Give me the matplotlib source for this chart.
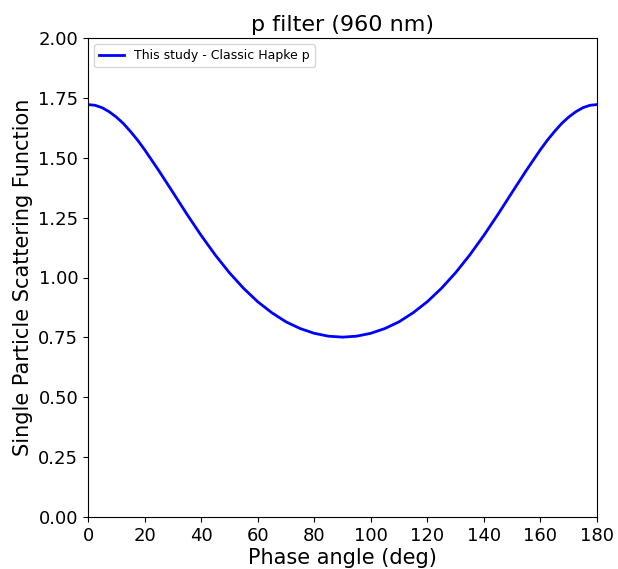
import matplotlib
matplotlib.use("Agg")
import matplotlib.pyplot as plt

phase_deg = [0, 2.5, 5, 7.5, 10, 12.5, 15, 17.5, 20, 25, 30, 35, 40, 45, 50, 55, 60, 65, 70, 75, 80, 85, 90,
             95, 100, 105, 110, 115, 120, 125, 130, 135, 140, 145, 150, 155, 160, 162.5, 165, 167.5,
             170, 172.5, 175, 177.5, 180]
ssf_values = [1.722, 1.719, 1.709, 1.692, 1.670, 1.643, 1.610, 1.574, 1.534, 1.447, 1.356, 1.264,
              1.176, 1.094, 1.020, 0.955, 0.899, 0.853, 0.815, 0.787, 0.767, 0.755, 0.751,
              0.755, 0.767, 0.787, 0.815, 0.853, 0.899, 0.955, 1.020, 1.094, 1.176, 1.264,
              1.356, 1.447, 1.534, 1.574, 1.610, 1.643, 1.670, 1.692, 1.709, 1.719, 1.722]
series_label = "This study - Classic Hapke p"
title_text = "p filter (960 nm)"
x_ticks = [0, 20, 40, 60, 80, 100, 120, 140, 160, 180]
y_ticks = [0.00, 0.25, 0.50, 0.75, 1.00, 1.25, 1.50, 1.75, 2.00]

fig = plt.figure(figsize=(6.18, 5.69), dpi=100)
ax = fig.add_axes([88/618, 1 - 517/569, (597-88)/618, (517-38)/569])
ax.plot(phase_deg, ssf_values, color="blue", lw=2, label=series_label)
ax.set_xlim(0, 180)
ax.set_ylim(0, 2)
ax.set_xticks(x_ticks)
ax.set_yticks(y_ticks)
ax.set_yticklabels([f"{v:.2f}" for v in y_ticks])
ax.tick_params(labelsize=13)
ax.set_xlabel("Phase angle (deg)", fontsize=15, labelpad=2)
ax.set_ylabel("Single Particle Scattering Function", fontsize=15)
ax.set_title(title_text, fontsize=16, pad=5)
ax.legend(loc="upper left", fontsize=9)
fig.savefig("out.png", dpi=100)
